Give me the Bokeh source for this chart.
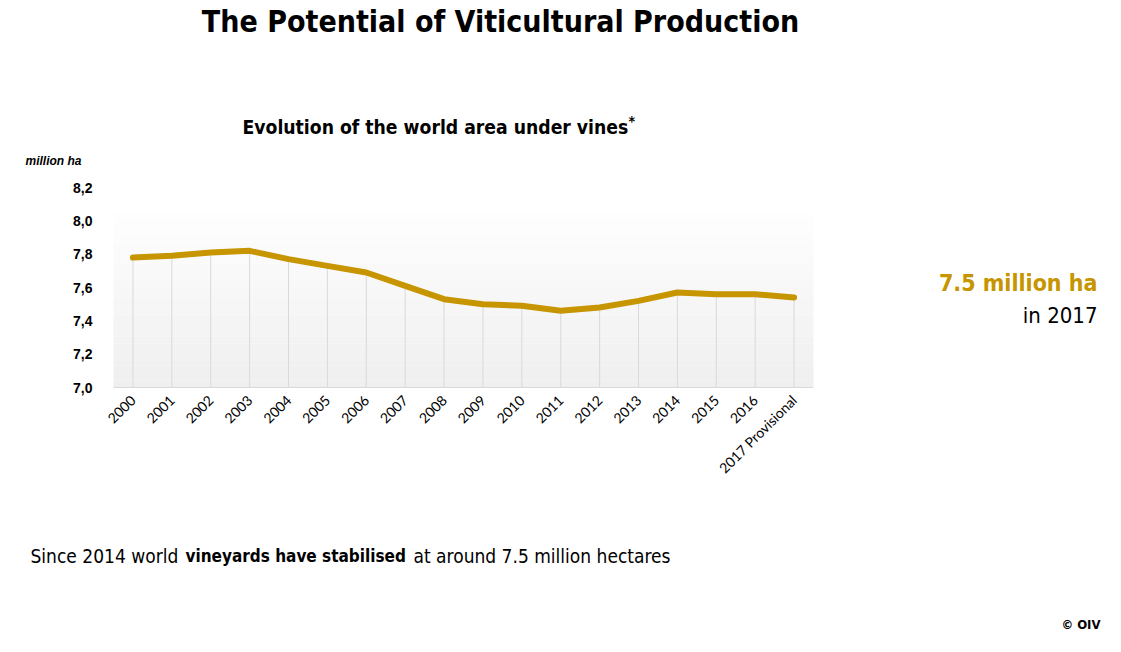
from bokeh.plotting import figure
from bokeh.models import Label, BoxAnnotation, CustomJSTickFormatter, FixedTicker, Range1d, LinearAxis
from bokeh.embed import file_html
from bokeh.resources import INLINE
from math import pi

years = ["2000", "2001", "2002", "2003", "2004", "2005", "2006", "2007", "2008",
         "2009", "2010", "2011", "2012", "2013", "2014", "2015", "2016", "2017 Provisional"]
area = [7.78, 7.79, 7.81, 7.82, 7.77, 7.73, 7.69, 7.61, 7.53,
        7.50, 7.49, 7.46, 7.48, 7.52, 7.57, 7.56, 7.56, 7.54]
y_ticks = [7.0, 7.2, 7.4, 7.6, 7.8, 8.0, 8.2]

W, H = 1105, 636
# chart area in canvas pixels
CL, CR, CT, CB = 113, 813, 187, 387
GOLD = "#C69500"
COND = "DejaVu Sans Condensed"

n_cat = len(years)
xs = list(range(n_cat))
ppx = (CR - CL) / n_cat                       # pixels per category
ypu = (CB - CT) / (y_ticks[-1] - y_ticks[0])  # pixels per unit
x0 = -0.5 - CL / ppx
x1 = -0.5 + (W - CL) / ppx
y_top = y_ticks[0] + CB / ypu
y_bot = y_ticks[0] - (H - CB) / ypu

p = figure(x_range=Range1d(x0, x1), y_range=Range1d(y_bot, y_top), width=W, height=H,
           output_backend="svg", toolbar_location=None,
           x_axis_location=None, y_axis_location=None, min_border=0)
p.outline_line_color = None
p.grid.visible = False
p.background_fill_color = "white"
p.border_fill_color = "white"

# soft vertical gradient behind the chart area
n = 24
lo, hi = y_ticks[0], 8.05
for i in range(n):
    t = i / (n - 1)
    c = int(round(0xEF + (0xFE - 0xEF) * t))
    p.add_layout(BoxAnnotation(left=-0.5, right=n_cat - 0.5,
                               bottom=lo + (hi - lo) * i / n, top=lo + (hi - lo) * (i + 1) / n,
                               fill_color="#%02x%02x%02x" % (c, c, c), fill_alpha=1.0,
                               line_color=None, level="underlay"))

p.segment(x0=xs, y0=[y_ticks[0]] * n_cat, x1=xs, y1=area,
          line_color="#d9d9d9", line_width=1)
p.line(xs, area, line_color=GOLD, line_width=6, line_join="round", line_cap="round")

yaxis = LinearAxis(fixed_location=-0.5, ticker=FixedTicker(ticks=y_ticks),
                   formatter=CustomJSTickFormatter(code="return tick.toFixed(1).replace('.', ',');"))
yaxis.axis_line_color = None
yaxis.major_tick_line_color = None
yaxis.minor_tick_line_color = None
yaxis.major_label_text_font = "Liberation Sans"
yaxis.major_label_text_font_style = "bold"
yaxis.major_label_text_font_size = "14px"
yaxis.major_label_text_color = "black"
yaxis.major_label_standoff = 15
p.add_layout(yaxis, "left")

xaxis = LinearAxis(fixed_location=y_ticks[0], ticker=FixedTicker(ticks=xs),
                   bounds=(-0.5, n_cat - 0.5))
xaxis.major_label_overrides = {i: y for i, y in enumerate(years)}
xaxis.axis_line_color = "#d9d9d9"
xaxis.major_tick_line_color = None
xaxis.minor_tick_line_color = None
xaxis.major_label_orientation = pi / 4
xaxis.major_label_text_font = "Lato"
xaxis.major_label_text_font_size = "14px"
xaxis.major_label_text_color = "black"
xaxis.major_label_standoff = 4
p.add_layout(xaxis, "below")


def add(text, px, py, size, align="left", style="normal", color="black", font=COND):
    p.add_layout(Label(x=px, y=py, x_units="canvas", y_units="canvas",
                       text=text, text_align=align, text_baseline="middle",
                       text_font=font, text_font_size=size, text_font_style=style,
                       text_color=color))


add("The Potential of Viticultural Production", 500, 21, "30px", align="center", style="bold")
add("Evolution of the world area under vines", 242, 127, "19.2px", style="bold")
add("*", 628, 120, "14px", style="bold")
add("million ha", 25, 160, "12px", style="bold italic", font="Liberation Sans")
add("7.5 million ha", 1097, 282, "23px", align="right", style="bold", color=GOLD)
add("in 2017", 1097, 315, "22px", align="right")
add("Since 2014 world", 30, 555, "19px")
add("vineyards have stabilised", 185, 555, "17px", style="bold")
add("at around 7.5 million hectares", 413, 555, "19px")
add("\u00a9 OIV", 1100, 624, "13px", align="right", style="bold")

open("out.html", "w").write(file_html(p, INLINE))
